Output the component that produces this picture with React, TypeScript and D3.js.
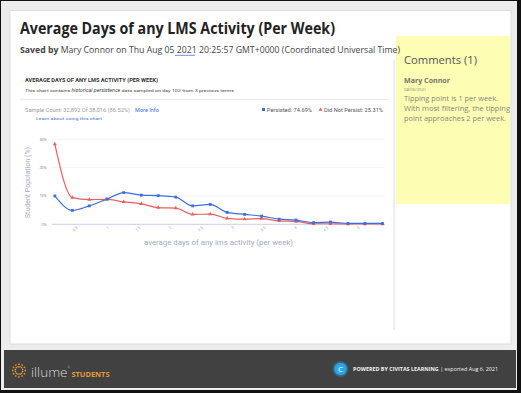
import React from 'react';
import * as d3 from 'd3';

// average days of lms activity per week (bin centres)
const days = [0.13, 0.41, 0.68, 0.96, 1.23, 1.51, 1.78, 2.06, 2.33, 2.61, 2.88, 3.16, 3.43, 3.71, 3.98, 4.26, 4.53, 4.81, 5.08, 5.36];
// student population share (%)
const persisted = [10.0, 4.9, 6.5, 8.9, 11.2, 10.3, 10.1, 9.6, 6.5, 7.0, 4.2, 3.5, 2.9, 1.8, 1.5, 0.6, 0.8, 0.3, 0.3, 0.3];
const notPersisted = [28.3, 9.4, 8.7, 8.8, 7.9, 7.2, 5.9, 5.7, 3.5, 3.6, 2.1, 1.8, 2.0, 1.2, 1.0, 0.2, 0.2, 0.1, 0.1, 0.1];
const yTicks = [0, 10, 20, 30];
const xTicks = [0.5, 1, 1.5, 2, 2.5, 3, 3.5, 4, 4.5, 5];
const commentLines = [
  'Tipping point is 1 per week.',
  'With most filtering, the tipping',
  'point approaches 2 per week.',
];

const BLUE = '#3b6fe0';
const RED = '#ea5f5c';
const SANS = "'Open Sans', 'Noto Sans', sans-serif";
const UI = "Roboto, 'Noto Sans', sans-serif";

function Chart() {
  const x = d3.scaleLinear().domain([0.085, 5.4]).range([52, 385]);
  const y = d3.scaleLinear().domain([0, 30]).range([224.3, 139.3]);

  const line = (vals: number[]) =>
    d3
      .line<number>()
      .x((_, i) => x(days[i]))
      .y((d) => y(d))
      .curve(d3.curveMonotoneX)(vals) || '';

  const tri = d3.symbol().type(d3.symbolTriangle).size(7)() || '';

  return (
    <g>
      {/* panel header */}
      <text x={25} y={82} fontFamily={UI} fontSize={4.8} fontWeight={700} fill="#333" textLength={133} lengthAdjust="spacingAndGlyphs">
        AVERAGE DAYS OF ANY LMS ACTIVITY (PER WEEK)
      </text>
      <text x={25} y={92} fontFamily={UI} fontSize={4.4} fill="#444" textLength={209} lengthAdjust="spacingAndGlyphs">
        This chart contains <tspan fontStyle="italic">historical persistence</tspan> data sampled on day 102 from 3 previous terms
      </text>
      <line x1={20} x2={389} y1={99.3} y2={99.3} stroke="#e6e8f0" />
      <text x={25} y={111.5} fontFamily={UI} fontSize={4.8} fill="#9a9a9a" textLength={105} lengthAdjust="spacingAndGlyphs">
        Sample Count: 32,892 Of 38,016 (86.52%)
      </text>
      <text x={135} y={111.5} fontFamily={UI} fontSize={4.8} fill={BLUE} textLength={24} lengthAdjust="spacingAndGlyphs">
        More Info
      </text>
      <text x={36} y={119.5} fontFamily={UI} fontSize={4.4} fill={BLUE} textLength={66} lengthAdjust="spacingAndGlyphs">
        Learn about using this chart
      </text>

      {/* legend */}
      <rect x={262} y={108} width={3} height={3} fill={BLUE} />
      <text x={267} y={111.5} fontFamily={UI} fontSize={4.8} fill="#555" textLength={45} lengthAdjust="spacingAndGlyphs">
        Persisted: 74.69%
      </text>
      <path d={tri} transform="translate(320.5,109.7)" fill={RED} />
      <text x={324} y={111.5} fontFamily={UI} fontSize={4.8} fill="#555" textLength={59} lengthAdjust="spacingAndGlyphs">
        Did Not Persist: 25.31%
      </text>

      {/* grid */}
      {yTicks.map((t) => (
        <g key={t}>
          <line x1={52} x2={385} y1={y(t)} y2={y(t)} stroke={t === 0 ? '#b9c5da' : '#eceef6'} strokeWidth={t === 0 ? 0.8 : 0.7} />
          <text x={46.5} y={y(t) + 1.4} textAnchor="end" fontFamily={UI} fontSize={3.8} fill="#888">
            {t}%
          </text>
        </g>
      ))}
      {xTicks.map((t) => (
        <text
          key={t}
          transform={`translate(${x(t)},${228}) rotate(-45)`}
          textAnchor="end"
          fontFamily={UI}
          fontSize={3.8}
          fill="#999"
        >
          {t}
        </text>
      ))}
      <text transform="translate(30,182.5) rotate(-90)" textAnchor="middle" fontFamily={UI} fontSize={7} fill="#a3abbb">
        Student Population (%)
      </text>
      <text x={218.5} y={244.5} textAnchor="middle" fontFamily={UI} fontSize={7} fill="#a3abbb" textLength={149} lengthAdjust="spacingAndGlyphs">
        average days of any lms activity (per week)
      </text>

      {/* series */}
      <path d={line(notPersisted)} fill="none" stroke={RED} strokeWidth={1.2} />
      <path d={line(persisted)} fill="none" stroke={BLUE} strokeWidth={1.2} />
      {notPersisted.map((v, i) => (
        <path key={'r' + i} d={tri} transform={`translate(${x(days[i])},${y(v)})`} fill={RED} />
      ))}
      {persisted.map((v, i) => (
        <rect key={'b' + i} x={x(days[i]) - 1.4} y={y(v) - 1.4} width={2.8} height={2.8} fill={BLUE} />
      ))}
    </g>
  );
}

function Footer() {
  const rays = d3.range(12).map((i) => (i / 12) * Math.PI * 2);
  return (
    <g>
      <rect x={4} y={350} width={512} height={38} fill="#414141" />
      {/* illume sun */}
      <g transform="translate(19,370.5)">
        {rays.map((a, i) => (
          <g key={i}>
            <circle cx={Math.cos(a) * 6.3} cy={Math.sin(a) * 6.3} r={0.9} fill="#e98a2a" />
            <circle cx={Math.cos(a + 0.26) * 3.8} cy={Math.sin(a + 0.26) * 3.8} r={0.8} fill="#f2a640" />
          </g>
        ))}
      </g>
      <text x={31} y={377} fontFamily={SANS} fontSize={13.5} fontWeight={300} fill="#d8d8d8">
        illume<tspan fontSize={3} dy={-8}>®</tspan>
      </text>
      <text x={71.5} y={377} fontFamily={SANS} fontSize={6.5} fontWeight={700} fill="#e59a33" textLength={38} lengthAdjust="spacingAndGlyphs">
        STUDENTS
      </text>
      {/* civitas mark */}
      <circle cx={340.5} cy={369} r={8} fill="#2a9fd8" opacity={0.35} />
      <circle cx={340.5} cy={369} r={6.2} fill="#2ba6e4" />
      <text x={340.5} y={372} textAnchor="middle" fontFamily={SANS} fontSize={8} fill="#fff">C</text>
      <text x={353} y={371.3} fontFamily={SANS} fontSize={5.6} fill="#f2f2f2" textLength={145} lengthAdjust="spacingAndGlyphs">
        <tspan fontWeight={700}>POWERED BY CIVITAS LEARNING</tspan> | exported Aug 6, 2021
      </text>
    </g>
  );
}

export default function App() {
  return (
    <div style={{ position: 'fixed', left: 0, top: 0 }}>
      <svg width={521} height={393} style={{ display: 'block' }}>
        <rect width={521} height={393} fill="#111" />
        <rect x={1} y={1} width={516} height={389} fill="#ececec" />
        <rect x={10} y={10.5} width={501} height={333.5} fill="#fff" stroke="#dcdcdc" />

        {/* divider and comments */}
        <line x1={394} x2={394} y1={60} y2={330} stroke="#dedede" />
        <rect x={396} y={36} width={114} height={168} fill="#fdfdb4" />
        <text x={404} y={64} fontFamily={SANS} fontSize={11.5} fill="#555" textLength={73} lengthAdjust="spacingAndGlyphs">
          Comments (1)
        </text>
        <text x={404} y={83} fontFamily={SANS} fontSize={7} fontWeight={700} fill="#77776a" textLength={46} lengthAdjust="spacingAndGlyphs">
          Mary Connor
        </text>
        <text x={404} y={90.5} fontFamily={SANS} fontSize={4.2} fill="#88887a">08/06/2021</text>
        {commentLines.map((s, i) => (
          <text key={i} x={404} y={100.5 + i * 10.3} fontFamily={SANS} fontSize={7.4} fill="#88887a" textLength={[94, 106, 102][i]} lengthAdjust="spacingAndGlyphs">
            {s}
          </text>
        ))}

        {/* page title */}
        <text x={20} y={33.5} fontFamily={SANS} fontSize={16} fontWeight={700} fill="#222" textLength={315} lengthAdjust="spacingAndGlyphs">
          Average Days of any LMS Activity (Per Week)
        </text>
        <text x={20} y={52.5} fontFamily={SANS} fontSize={9.6} fill="#444" textLength={380} lengthAdjust="spacingAndGlyphs">
          <tspan fontWeight={700}>Saved by</tspan> Mary Connor on Thu Aug 05 2021 20:25:57 GMT+0000 (Coordinated Universal Time)
        </text>
        <line x1={175} x2={195} y1={55.3} y2={55.3} stroke="#4a74d8" strokeWidth={0.8} />

        <Chart />
        <Footer />
      </svg>
    </div>
  );
}
